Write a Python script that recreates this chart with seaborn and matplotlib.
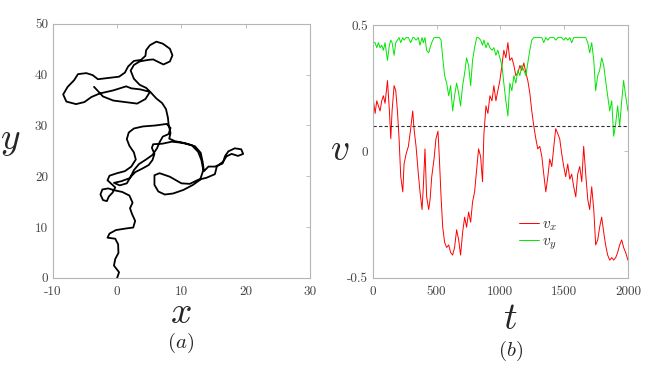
import matplotlib
matplotlib.use("Agg")
import matplotlib.pyplot as plt
import seaborn as sns
import pandas as pd

# (a) trajectory
traj_x = [0, 0.3, -0.5, -0.3, 0.2, 0.15, -0.3, -1.5, -1.2, -0.2, 1.3, 2.5, 2.8, 2.3, 2.0, 2.4, 1.9, 0.8, -0.3,
          -1.4, -2.3, -2.6, -2.2, -1.6, -1.3, -0.7, -0.3, -0.9,
          -1.5, -1.2, 0.0, 1.2, 2.2, 2.9, 2.6, 1.9, 1.5, 1.8, 2.6, 4.0, 6.0, 7.7, 8.3, 8.0, 7.1, 6.6, 6.2, 5.5,
          4.5, 3.4, 2.6, 2.1, 1.5, 0.4, -0.5,
          0.6, 1.9, 2.8, 3.9, 4.9, 5.5, 5.8, 5.4, 5.6, 7.0, 8.5,
          10.0, 11.6, 12.6, 13.1, 13.4, 12.9, 11.8, 10.3, 8.7, 7.4, 6.4, 5.8, 5.8, 6.6, 8.2, 10.0, 11.3, 12.6,
          13.9, 15.2, 15.5, 16.5, 17.0, 17.8, 18.8, 19.6, 19.3, 18.3, 17.3, 16.8, 16.4, 15.2, 14.2, 13.5, 13.3,
          13.0, 12.1, 10.6, 9.0, 8.1,
          8.3, 8.0, 7.9, 7.6, 7.0, 6.1, 5.3, 4.5, 3.5, 2.6, 2.1, 2.6, 3.5, 4.8, 5.6, 6.4, 7.2, 8.2, 8.6, 8.2,
          7.1, 6.1, 5.1, 4.5, 4.4, 3.7, 2.6, 1.7, 1.2, 0.3, -1.7, -3.0, -3.8, -4.8, -6.1, -6.7, -7.7, -8.4,
          -7.9, -6.4, -5.1, -4.0, -2.7, -0.6, 1.4, 2.2, 3.6, 5.1, 4.4, 3.1, 1.3, -0.6, -2.2, -3.6]
traj_y = [0, 1.1, 2.4, 3.7, 4.9, 6.6, 7.7, 7.9, 8.7, 9.4, 9.7, 9.9, 11.2, 12.6, 13.7, 14.8, 16.2, 16.9, 17.2,
          17.6, 17.4, 16.4, 15.3, 15.1, 16.0, 16.8, 17.8, 18.5,
          19.2, 20.1, 20.6, 21.0, 21.9, 23.3, 24.7, 26.0, 27.3, 28.6, 29.4, 29.8, 30.0, 30.3, 29.5, 28.3, 27.8,
          26.7, 25.5, 24.2, 23.3, 22.4, 21.2, 19.9, 18.6, 18.2, 18.7,
          19.0, 19.6, 20.8, 21.5, 22.2, 23.2, 24.4, 25.6, 26.3, 26.4, 26.8,
          26.6, 26.1, 24.8, 23.2, 21.2, 19.3, 18.3, 17.3, 16.6, 16.4, 17.0, 18.3, 20.2, 20.6, 19.9, 18.6, 18.5, 19.3,
          19.7, 20.4, 21.9, 22.9, 23.9, 24.4, 24.0, 24.4, 25.3, 25.5, 24.9, 24.0, 22.5, 21.9, 21.9, 21.0, 22.8,
          24.6, 25.9, 26.5, 26.9, 27.4,
          28.5, 30.2, 31.5, 33.2, 34.4, 35.3, 36.4, 37.4, 38.0, 39.2, 40.8, 41.9, 42.6, 42.9, 43.0, 42.5, 42.0,
          42.6, 43.8, 45.1, 46.1, 46.5, 45.8, 44.8, 43.7, 42.9, 42.7, 41.6, 40.4, 39.6, 39.3, 39.1, 39.9, 40.3,
          40.1, 38.9, 37.6, 36.1, 34.7, 34.2, 34.6, 35.6, 36.3, 36.9, 37.7, 37.3, 37.1, 36.6, 35.2, 34.3, 34.6,
          34.9, 35.7, 37.6]

# (b) velocity components
t = [0, 18, 31, 44, 57, 70, 83, 96, 115, 130, 141, 151, 167, 180, 193, 206, 219, 235, 245, 261,
     279, 297, 313, 323, 339, 357, 370, 386, 396, 409, 422, 438, 449, 462, 480, 495, 511, 522, 535,
     548, 563, 579, 595, 610, 626, 641, 657, 673, 688, 704, 720, 735, 751, 767, 782, 798, 814, 829, 845, 860,
     871,
     887, 902, 918, 934, 949, 965, 980, 996, 1012, 1027, 1043, 1059, 1074, 1090, 1106, 1121, 1137, 1153,
     1168, 1184, 1200, 1215, 1231, 1246, 1262, 1278, 1293, 1309, 1325, 1340, 1356, 1372, 1387, 1403, 1419,
     1434, 1450, 1465, 1481, 1497, 1512, 1528, 1544, 1559, 1575, 1591, 1606, 1622, 1638, 1653, 1669, 1685,
     1700, 1716, 1732, 1747, 1763, 1778, 1794, 1810, 1825, 1841, 1857, 1873, 1888, 1904, 1919, 1935, 1951,
     1966, 1982, 2000]
vx = [0.22, 0.15, 0.20, 0.18, 0.16, 0.20, 0.22, 0.19, 0.28, 0.16, 0.05, 0.16, 0.26, 0.24, 0.16, 0.05, -0.10,
      -0.16, -0.05, -0.01, 0.02, 0.09, 0.16, 0.09, 0.02, -0.09, -0.16, -0.23, -0.14, 0.01, -0.18, -0.23, -0.19,
      -0.10, -0.03, 0.05, 0.08, -0.03, -0.18,
      -0.30, -0.36, -0.38, -0.37, -0.40, -0.41, -0.38, -0.31, -0.35, -0.41, -0.32, -0.26, -0.30, -0.24, -0.28,
      -0.20, -0.16, -0.07, 0.01, -0.02, -0.12,
      0.07,
      0.18, 0.15, 0.22, 0.20, 0.26, 0.20, 0.24, 0.28, 0.34, 0.40, 0.37, 0.43, 0.36, 0.37, 0.34, 0.30, 0.31,
      0.34, 0.32, 0.35, 0.31, 0.28, 0.23, 0.16, 0.10, 0.05, 0.01, 0.02, -0.02, -0.09, -0.16, -0.10, -0.03,
      -0.06, 0.02, 0.09, 0.07, 0.05, -0.01, -0.06, -0.10, -0.05, -0.11, -0.09, -0.14, -0.18, -0.09, -0.06,
      -0.12, 0.02, -0.09, -0.19, -0.23, -0.14, -0.23, -0.37, -0.35, -0.30, -0.26, -0.32, -0.37, -0.41, -0.43,
      -0.42, -0.43, -0.42, -0.40, -0.37, -0.35, -0.38, -0.40, -0.43]
vy = [0.43, 0.43, 0.41, 0.43, 0.41, 0.42, 0.40, 0.43, 0.36, 0.42, 0.44, 0.43, 0.38, 0.43, 0.44, 0.45, 0.43,
      0.45, 0.44, 0.45, 0.45, 0.43, 0.45, 0.45, 0.44, 0.45, 0.42, 0.45, 0.43, 0.45, 0.40, 0.39, 0.41, 0.43,
      0.45, 0.45, 0.45, 0.45, 0.44,
      0.37, 0.30, 0.27, 0.22, 0.26, 0.16, 0.22, 0.27, 0.23, 0.18, 0.26, 0.31, 0.37, 0.34, 0.26, 0.36, 0.41,
      0.45, 0.45, 0.44, 0.42,
      0.44,
      0.41, 0.43, 0.41, 0.40, 0.41, 0.38, 0.40, 0.37, 0.34, 0.27, 0.20, 0.14, 0.27, 0.24, 0.30, 0.27, 0.32,
      0.30, 0.34, 0.32, 0.30, 0.35, 0.40, 0.44, 0.45, 0.45, 0.45, 0.45, 0.45, 0.43, 0.45, 0.44, 0.45, 0.45,
      0.45, 0.44, 0.45, 0.45, 0.45, 0.44, 0.45, 0.44, 0.45, 0.43, 0.45, 0.45, 0.45, 0.45, 0.45, 0.45, 0.45,
      0.43, 0.39, 0.43, 0.36, 0.24, 0.30, 0.32, 0.37, 0.34, 0.28, 0.22, 0.16, 0.20, 0.06, 0.11, 0.18, 0.10,
      0.20, 0.28, 0.22, 0.16]
v_ref = 0.1

sns.set_style("white")
plt.rcParams['font.family'] = ['serif']
plt.rcParams['font.serif'] = ['cmr10', 'DejaVu Serif']
plt.rcParams['mathtext.fontset'] = 'cm'
plt.rcParams['axes.unicode_minus'] = False
plt.rcParams['axes.formatter.use_mathtext'] = False

fig = plt.figure(figsize=(6.61, 3.67), dpi=100)
ax1 = fig.add_axes([0.080, 0.243, 0.389, 0.692])
ax2 = fig.add_axes([0.564, 0.243, 0.386, 0.689])

traj = pd.DataFrame({'x': traj_x, 'y': traj_y})
sns.lineplot(data=traj, x='x', y='y', sort=False, estimator=None, color='black', lw=1.3, ax=ax1)
ax1.set_xlim(-10, 30)
ax1.set_ylim(0, 50)
ax1.set_xticks([-10, 0, 10, 20, 30])
ax1.set_yticks([0, 10, 20, 30, 40, 50])

vel = pd.DataFrame({'t': t, 'vx': vx, 'vy': vy})
sns.lineplot(data=vel, x='t', y='vx', color='#ff0000', lw=0.7, ax=ax2, label='$v_x$')
sns.lineplot(data=vel, x='t', y='vy', color='#00e600', lw=0.7, ax=ax2, label='$v_y$')
ax2.axhline(v_ref, color='#333333', ls=(0, (3, 2)), lw=0.8)
ax2.set_xlim(0, 2000)
ax2.set_ylim(-0.5, 0.5)
ax2.set_xticks([0, 500, 1000, 1500, 2000])
ax2.set_yticks([-0.5, 0, 0.5])
ax2.set_yticklabels(['-0.5', '0', '0.5'])
ax2.legend(loc='lower left', bbox_to_anchor=(0.53, 0.06), frameon=False, fontsize=11,
           handlelength=1.3, handletextpad=0.2, labelspacing=0.1, borderpad=0.2)

for ax in (ax1, ax2):
    ax.set_xlabel('')
    ax.set_ylabel('')
    for s in ax.spines.values():
        s.set_color('#b5b5b5')
        s.set_linewidth(0.8)
    ax.tick_params(direction='in', length=3, width=0.6, color='#b5b5b5', labelcolor='#444444',
                   labelsize=9.5, top=True, right=True, pad=3.5)
    ax.tick_params(axis='x', pad=5.5)

fig.text(0.273, 0.145, '$x$', fontsize=27, ha='center', va='center')
fig.text(0.273, 0.065, '$(a)$', fontsize=15, ha='center', va='center')
fig.text(0.016, 0.615, '$y$', fontsize=27, ha='center', va='center')
fig.text(0.772, 0.130, '$t$', fontsize=27, ha='center', va='center')
fig.text(0.772, 0.045, '$(b)$', fontsize=15, ha='center', va='center')
fig.text(0.514, 0.590, '$v$', fontsize=27, ha='center', va='center')

fig.savefig('out.png', dpi=100)
